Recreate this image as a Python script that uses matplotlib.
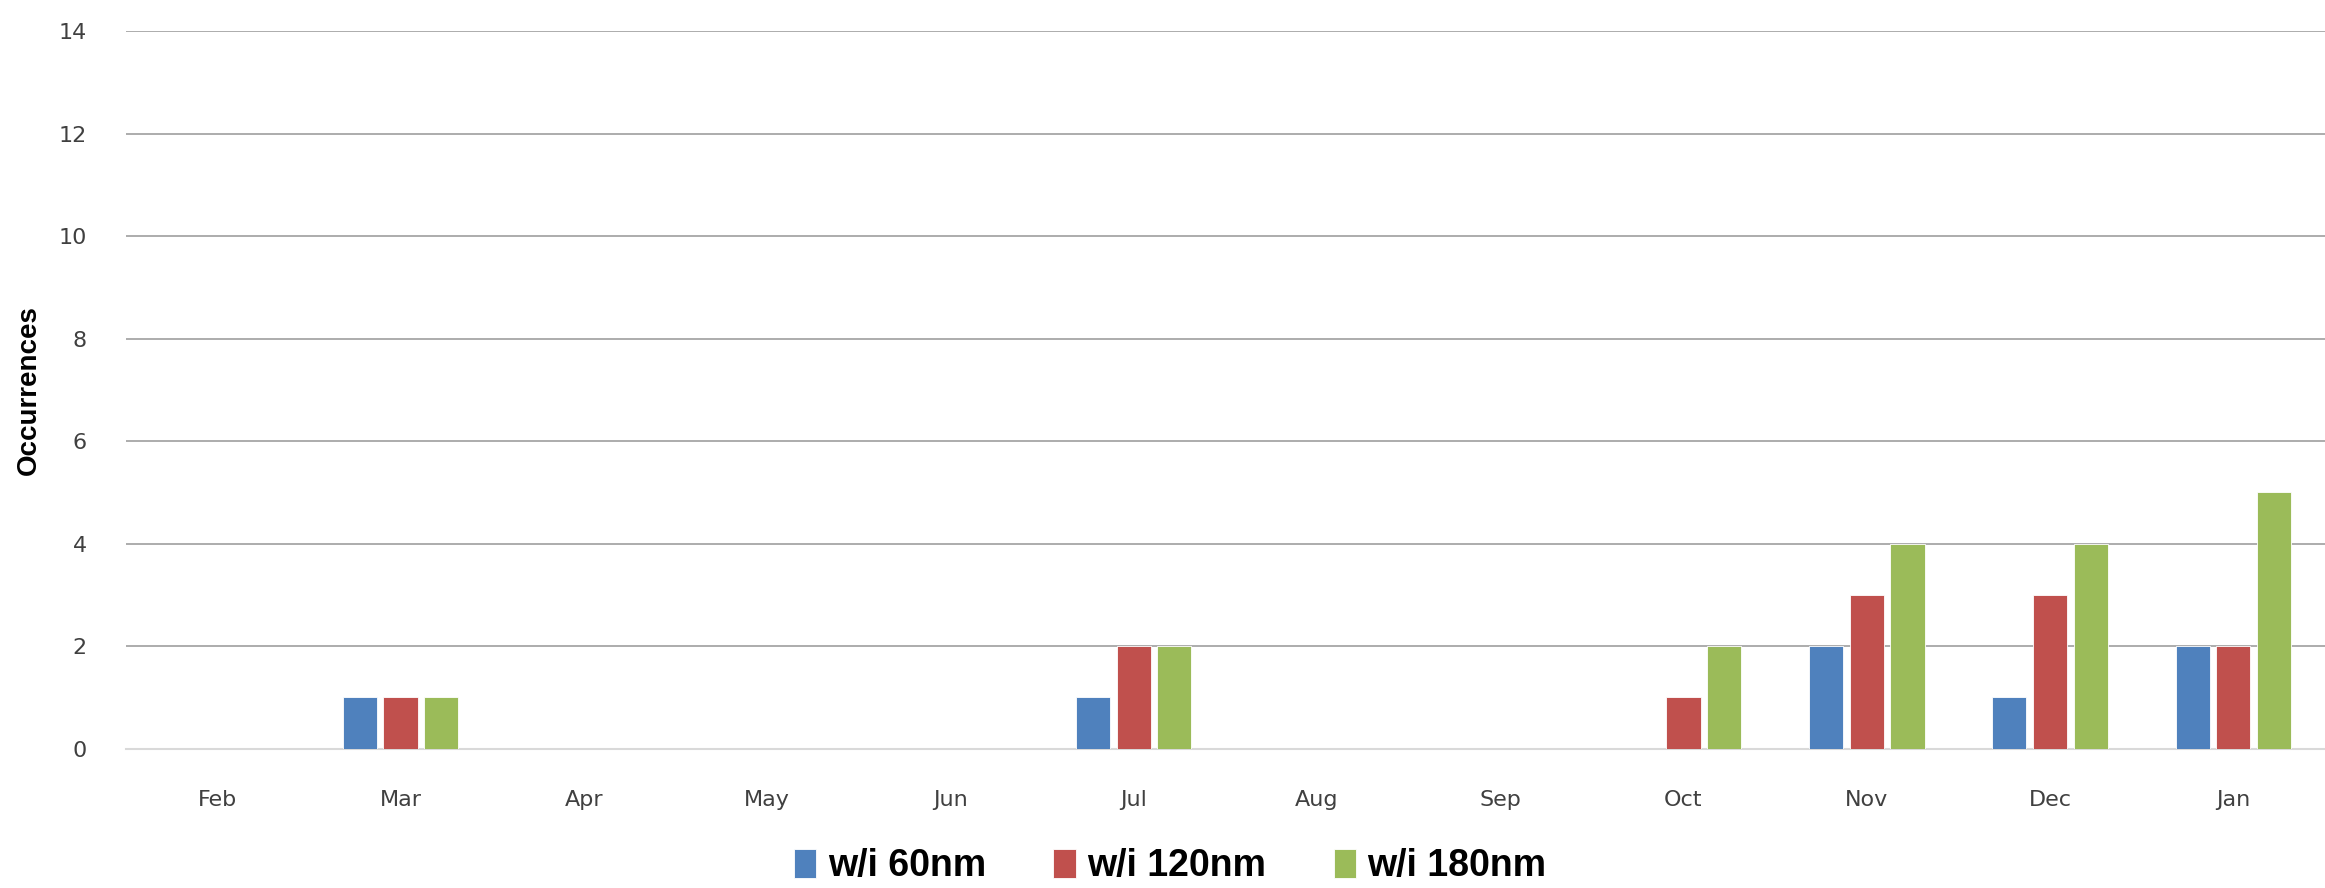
import numpy as np
import matplotlib
matplotlib.use('Agg')
import matplotlib.pyplot as plt

months = ['Feb', 'Mar', 'Apr', 'May', 'Jun', 'Jul', 'Aug', 'Sep', 'Oct', 'Nov', 'Dec', 'Jan']
within_60 = [0, 1, 0, 0, 0, 1, 0, 0, 0, 2, 1, 2]
within_120 = [0, 1, 0, 0, 0, 2, 0, 0, 1, 3, 3, 2]
within_180 = [0, 1, 0, 0, 0, 2, 0, 0, 2, 4, 4, 5]
labels = ['w/i 60nm', 'w/i 120nm', 'w/i 180nm']
colors = ['#4F81BD', '#C0504D', '#9BBB59']


def plot():
    fig = plt.figure(figsize=(23.25, 8.88), dpi=100)
    ax = fig.add_axes([0.054, 0.157, 0.946, 0.808])
    x = np.arange(len(months))
    width = 0.186
    offset = 0.222
    for i, (vals, lab, c) in enumerate(zip([within_60, within_120, within_180], labels, colors)):
        ax.bar(x + (i - 1) * offset, vals, width=width, color=c, label=lab,
               edgecolor='white', linewidth=0.6, zorder=3)

    ax.set_xlim(-0.5, len(months) - 0.5)
    ax.set_ylim(0, 14)
    ax.set_yticks(range(0, 15, 2))
    ax.set_xticks(x)
    ax.set_xticklabels(months)
    ax.yaxis.grid(True, color='#A6A6A6', linewidth=1.3, zorder=0)
    for s in ['top', 'right', 'left']:
        ax.spines[s].set_visible(False)
    ax.spines['bottom'].set_color('#D9D9D9')
    ax.spines['bottom'].set_linewidth(1.5)
    ax.tick_params(axis='both', length=0, labelsize=16, colors='#404040', labelcolor='#404040')
    ax.tick_params(axis='x', pad=30)
    ax.tick_params(axis='y', pad=28)
    ax.set_ylabel('Occurrences', fontsize=20, fontweight='bold',
                  family=['Liberation Sans Narrow', 'Liberation Sans', 'DejaVu Sans'], labelpad=12)

    ax.legend(loc='center', bbox_to_anchor=(0.475, -0.164), ncol=3, frameon=False,
              prop={'family': ['Liberation Sans Narrow', 'Liberation Sans', 'DejaVu Sans'],
                    'weight': 'bold', 'size': 27},
              handlelength=0.6, handleheight=0.8, handletextpad=0.3, columnspacing=1.8)
    fig.savefig('out.png', dpi=100)


if __name__ == '__main__':
    plot()
